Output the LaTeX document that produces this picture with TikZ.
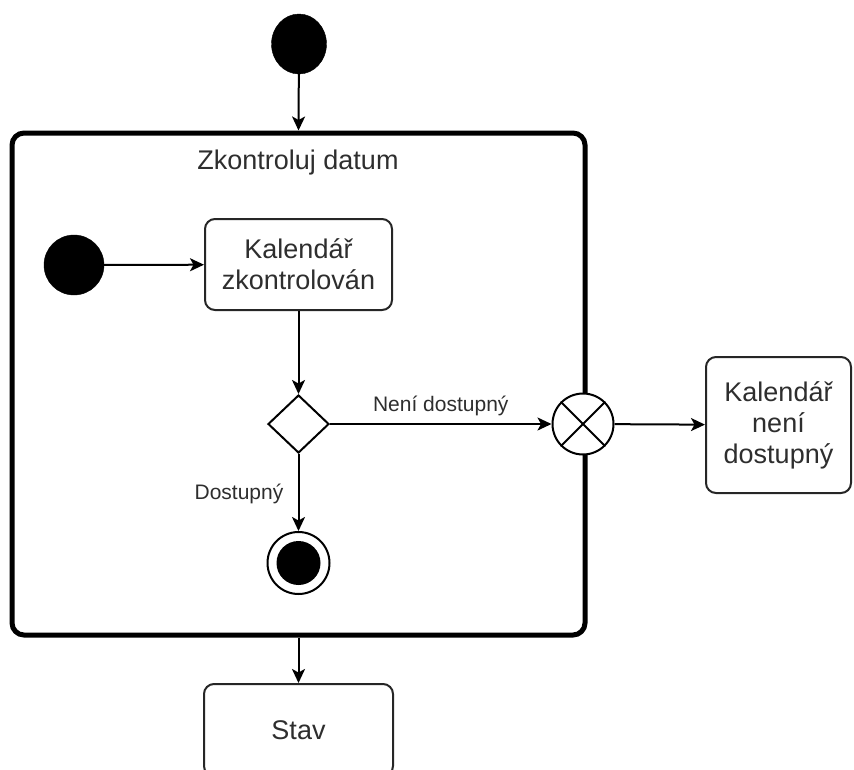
\documentclass[tikz,border=0pt]{standalone}
\usepackage{fontspec}
\setmainfont{Liberation Sans}
\usetikzlibrary{arrows.meta,shapes.geometric}
\begin{document}
\begin{tikzpicture}[x=1pt,y=-1pt,
  txt/.style={text=black!82},
  big/.style={txt,font=\fontsize{27}{31}\selectfont,align=center},
  lbl/.style={txt,font=\fontsize{21}{24}\selectfont},
  startnode/.style={ellipse,fill=black,draw=black,inner sep=0pt},
  statebox/.style={draw=black!85,line width=2pt,rounded corners=10pt,fill=white,
    inner sep=0pt,big},
  arr/.style={draw=black,line width=2pt,-{Stealth[length=14pt,width=13pt,inset=3.5pt]}},
  plain/.style={draw=black,line width=1.8pt}]
\useasboundingbox (0,0) rectangle (854,769);
\clip (0,0) rectangle (854,769);

% composite state with its title
\node[draw=black,line width=5pt,rounded corners=12pt,minimum width=573pt,
  minimum height=502pt,inner sep=0pt] (container) at (298.5,384) {};
\node[big] (title) at (298,163) {Zkontroluj datum};

% outer flow
\node[startnode,minimum width=55pt,minimum height=60pt] (init) at (299,44) {};
\node[statebox,minimum width=189pt,minimum height=92pt] (stav) at (298.5,730) {Stav};

% inner flow
\node[startnode,minimum size=60pt,circle] (init2) at (74,265) {};
\node[statebox,minimum width=187pt,minimum height=91pt] (check) at (298.5,264.5)
  {Kalendář\\zkontrolován};
\node[diamond,draw=black,line width=2pt,fill=white,inner sep=0pt,
  minimum width=61pt,minimum height=58pt] (dec) at (298.5,424) {};
\node[circle,draw=black,line width=2pt,fill=white,inner sep=0pt,
  minimum size=62pt] (final) at (298.5,563) {};
\node[circle,fill=black,inner sep=0pt,minimum size=44pt] (finaldot) at (final) {};

% exit point on the border
\node[circle,draw=black,line width=2pt,fill=white,inner sep=0pt,
  minimum size=61pt] (exitpt) at (583,424) {};
\draw[plain] (exitpt.45) -- (exitpt.225);
\draw[plain] (exitpt.135) -- (exitpt.-45);

\node[statebox,minimum width=145pt,minimum height=136pt] (busy) at (778.5,425)
  {Kalendář\\není\\dostupný};

% transitions
\draw[arr] (init) -- (container.north);
\draw[arr] (container.south) -- (stav.north);
\draw[arr] (init2) -- (check);
\draw[arr] (check) -- (dec);
\draw[arr] (dec) -- node[lbl,above=4pt] (lblno) {Není dostupný} (exitpt);
\draw[arr] (dec) -- (final);
\node[lbl] (lblyes) at (239,494) {Dostupný};
\draw[arr] (exitpt) -- (busy);
\end{tikzpicture}
\end{document}
